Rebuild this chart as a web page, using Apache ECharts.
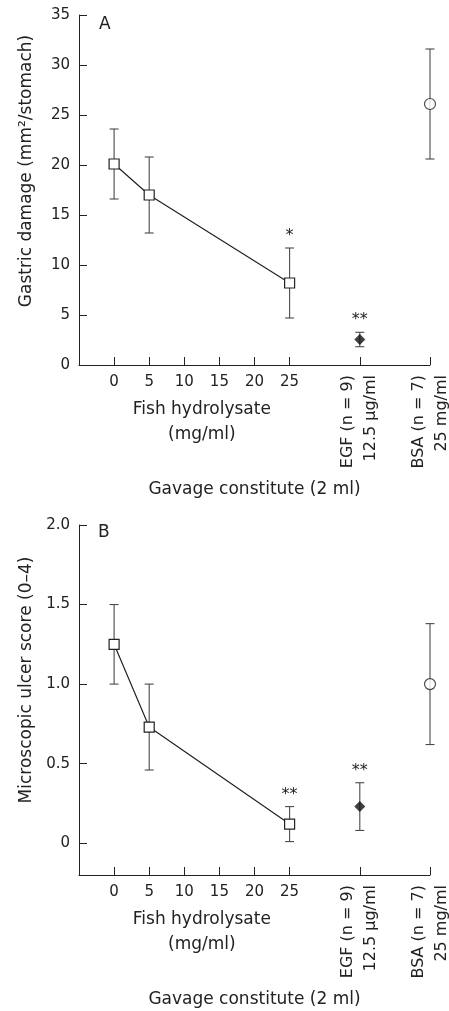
<!DOCTYPE html>
<html>
<head>
<meta charset="utf-8">
<script src="https://cdn.jsdelivr.net/npm/echarts@6/dist/echarts.min.js"></script>
<style>
  html, body { margin: 0; padding: 0; background: #fff; }
  #main { width: 449px; height: 1011px; }
</style>
</head>
<body>
<div id="main"></div>
<script>
// x scale: fish hydrolysate doses (mg/ml), then the two control groups placed at 35 and 45
var doses = [0, 5, 25];
var doseTicks = [0, 5, 10, 15, 20, 25];
var groupX = [35, 45];
var groupLabels = ['EGF (n = 9)\n12.5 µg/ml', 'BSA (n = 7)\n25 mg/ml'];

// panel A - gastric damage (mm2/stomach): mean, error, significance
var damageFish = [20.1, 17.0, 8.2];
var damageFishErr = [3.5, 3.8, 3.5];
var damageFishSig = ['', '', '*'];
var damageEGF = [2.55, 0.72, '**'];
var damageBSA = [26.1, 5.5, ''];

// panel B - microscopic ulcer score (0-4)
var ulcerFish = [1.25, 0.73, 0.12];
var ulcerFishErr = [0.25, 0.27, 0.11];
var ulcerFishSig = ['', '', '**'];
var ulcerEGF = [0.23, 0.15, '**'];
var ulcerBSA = [1.0, 0.38, ''];

var ink = '#222';
var barInk = '#4a4a4a';
var font = 'DejaVu Sans';

var chart = echarts.init(document.getElementById('main'));

function errRows(fish, fishErr, fishSig, egf, bsa) {
  var rows = doses.map(function (d, i) { return [d, fish[i], fishErr[i], fishSig[i]]; });
  rows.push([groupX[0], egf[0], egf[1], egf[2]]);
  rows.push([groupX[1], bsa[0], bsa[1], bsa[2]]);
  return rows;
}

function renderErr(rows, params, api) {
  var x = api.value(0), m = api.value(1), e = api.value(2);
  var sig = rows[params.dataIndex][3];
  var top = api.coord([x, m + e]);
  var bot = api.coord([x, m - e]);
  var cap = 4.5;
  var style = { stroke: barInk, lineWidth: 1.1 };
  var kids = [
    { type: 'line', shape: { x1: top[0], y1: top[1], x2: bot[0], y2: bot[1] }, style: style },
    { type: 'line', shape: { x1: top[0] - cap, y1: top[1], x2: top[0] + cap, y2: top[1] }, style: style },
    { type: 'line', shape: { x1: bot[0] - cap, y1: bot[1], x2: bot[0] + cap, y2: bot[1] }, style: style }
  ];
  if (sig) {
    kids.push({ type: 'text', x: top[0], y: top[1] - 4,
      style: { text: sig, fill: ink, fontSize: 16, fontFamily: font, align: 'center', verticalAlign: 'bottom' } });
  }
  return { type: 'group', children: kids };
}

function xAxes(g) {
  return [
    { type: 'value', gridIndex: g, min: -5, max: 45, position: 'bottom',
      axisLine: { onZero: false, lineStyle: { color: ink, width: 1 } },
      axisTick: { inside: true, length: 8, customValues: doseTicks.concat(groupX), lineStyle: { color: ink } },
      axisLabel: { customValues: doseTicks, margin: 10, color: ink, fontSize: 15, fontFamily: font },
      splitLine: { show: false },
      name: 'Gavage constitute (2 ml)', nameLocation: 'middle', nameGap: 116,
      nameTextStyle: { color: ink, fontSize: 17, fontFamily: font } },
    { type: 'value', gridIndex: g, min: -5, max: 45, position: 'bottom',
      axisLine: { show: false }, axisTick: { show: false }, splitLine: { show: false },
      axisLabel: { customValues: groupX, rotate: 90, margin: 10, lineHeight: 23,
        color: ink, fontSize: 16, fontFamily: font, padding: [0, 0, 6, 0],
        formatter: function (v) { return groupLabels[groupX.indexOf(v)]; } } },
    { type: 'value', gridIndex: g, min: -5, max: 45, position: 'bottom',
      axisLine: { show: false }, axisTick: { show: false }, splitLine: { show: false },
      axisLabel: { customValues: [12.5], margin: 32, lineHeight: 25,
        color: ink, fontSize: 17, fontFamily: font,
        formatter: function () { return 'Fish hydrolysate\n(mg/ml)'; } } }
  ];
}

function panelSeries(g, fish, fishErr, fishSig, egf, bsa) {
  var rows = errRows(fish, fishErr, fishSig, egf, bsa);
  var xi = g * 3;
  return [
    { type: 'custom', xAxisIndex: xi, yAxisIndex: g, data: rows.map(function (r) { return r.slice(0, 3); }),
      renderItem: function (params, api) { return renderErr(rows, params, api); },
      z: 1, silent: true },
    { type: 'line', xAxisIndex: xi, yAxisIndex: g, z: 3,
      data: doses.map(function (d, i) { return [d, fish[i]]; }),
      symbol: 'rect', symbolSize: 10, showAllSymbol: true,
      lineStyle: { color: ink, width: 1.2 },
      itemStyle: { color: '#fff', borderColor: ink, borderWidth: 1.2 } },
    { type: 'scatter', xAxisIndex: xi, yAxisIndex: g, z: 3,
      data: [[groupX[0], egf[0]]], symbol: 'diamond', symbolSize: 11,
      itemStyle: { color: '#111' } },
    { type: 'scatter', xAxisIndex: xi, yAxisIndex: g, z: 3,
      data: [[groupX[1], bsa[0]]], symbol: 'circle', symbolSize: 11,
      itemStyle: { color: '#fff', borderColor: ink, borderWidth: 1.2 } }
  ];
}

var yCommon = {
  axisLine: { show: true, onZero: false, lineStyle: { color: ink, width: 1 } },
  axisTick: { show: true, inside: true, length: 8, lineStyle: { color: ink } },
  splitLine: { show: false },
  nameLocation: 'middle'
};

var option = {
  animation: false,
  textStyle: { fontFamily: font },
  title: [
    { text: 'A', left: 94, top: 11, textStyle: { fontSize: 17, fontWeight: 'normal', color: ink, fontFamily: font } },
    { text: 'B', left: 93, top: 519, textStyle: { fontSize: 17, fontWeight: 'normal', color: ink, fontFamily: font } }
  ],
  grid: [
    { left: 79, right: 19, top: 15, height: 350, outerBoundsMode: 'none' },
    { left: 79, right: 19, top: 525, height: 350, outerBoundsMode: 'none' }
  ],
  xAxis: xAxes(0).concat(xAxes(1)),
  yAxis: [
    Object.assign({}, yCommon, {
      type: 'value', gridIndex: 0, min: 0, max: 35, interval: 5,
      axisLabel: { margin: 9, color: ink, fontSize: 15, fontFamily: font },
      name: 'Gastric damage (mm²/stomach)', nameGap: 44,
      nameTextStyle: { color: ink, fontSize: 17, fontFamily: font, padding: [0, 0, 0, 38] }
    }),
    Object.assign({}, yCommon, {
      type: 'value', gridIndex: 1, min: -0.2, max: 2.0,
      axisTick: { show: true, inside: true, length: 8, lineStyle: { color: ink }, customValues: [0, 0.5, 1, 1.5, 2] },
      axisLabel: { margin: 9, color: ink, fontSize: 15, fontFamily: font, customValues: [0, 0.5, 1, 1.5, 2],
        formatter: function (v) { return v === 0 ? '0' : v.toFixed(1); } },
      name: 'Microscopic ulcer score (0–4)', nameGap: 44,
      nameTextStyle: { color: ink, fontSize: 17, fontFamily: font, padding: [0, 0, 0, 40] }
    })
  ],
  series: panelSeries(0, damageFish, damageFishErr, damageFishSig, damageEGF, damageBSA)
    .concat(panelSeries(1, ulcerFish, ulcerFishErr, ulcerFishSig, ulcerEGF, ulcerBSA))
};

chart.setOption(option);
</script>
</body>
</html>
